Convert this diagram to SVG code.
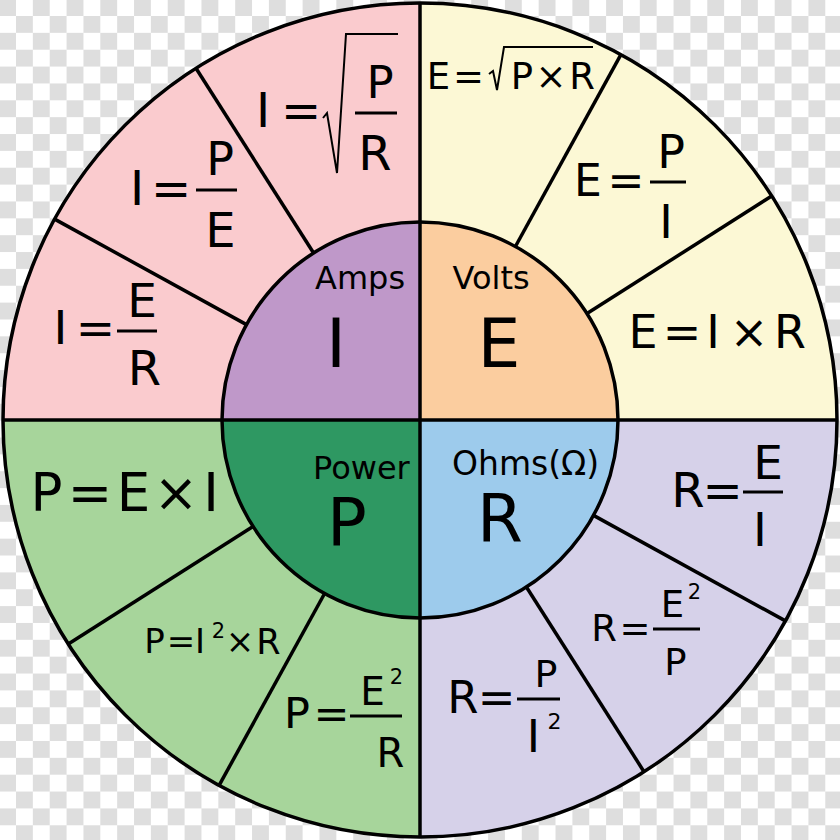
<svg xmlns="http://www.w3.org/2000/svg" width="840" height="840" viewBox="0 0 840 840">
<defs>
<pattern id="chk" x="-0.86" y="-0.86" width="33.72" height="33.72" patternUnits="userSpaceOnUse">
<rect width="33.72" height="33.72" fill="#ffffff"/>
<rect width="16.86" height="16.86" fill="#dedede"/>
<rect x="16.86" y="16.86" width="16.86" height="16.86" fill="#dedede"/>
</pattern>
<style>
text{font-family:"DejaVu Sans","Liberation Sans",sans-serif;fill:#000}
.m{text-anchor:middle}
.pink{fill:#facbce}
.yel{fill:#fcf8d5}
.grn{fill:#a7d59b}
.lav{fill:#d6d1e9}
.fl{stroke:#000;stroke-width:2.8;fill:none}
.rad{stroke:#000;stroke-width:2;fill:none;stroke-linejoin:miter}
.ln{stroke:#000;stroke-width:3.5;fill:none}
</style>
</defs>
<rect width="840" height="840" fill="url(#chk)"/>

<g id="sector-E-IxR">
<path class="yel" d="M420,420 L837,420 A417,417 0 0 0 771.7,195.9 Z"/>
<text class="m" x="643" y="348" font-size="46">E</text>
<text class="m" x="682" y="348" font-size="46">=</text>
<text class="m" x="713" y="348" font-size="46">I</text>
<text class="m" x="749" y="348" font-size="46">×</text>
<text class="m" x="790" y="348" font-size="46">R</text>
</g>
<g id="sector-E-P-over-I">
<path class="yel" d="M420,420 L771.7,195.9 A417,417 0 0 0 620.9,54.6 Z"/>
<text class="m" x="588" y="196" font-size="44">E</text>
<text class="m" x="626" y="196" font-size="44">=</text>
<line class="fl" x1="650" y1="182" x2="686" y2="182"/>
<text class="m" x="671" y="168" font-size="46">P</text>
<text class="m" x="666" y="238" font-size="46">I</text>
</g>
<g id="sector-E-sqrtPR">
<path class="yel" d="M420,420 L620.9,54.6 A417,417 0 0 0 420,3 Z"/>
<text class="m" x="438.5" y="89" font-size="37">E</text>
<text class="m" x="468.5" y="89" font-size="37">=</text>
<polyline class="rad" points="489,74 493,71 497,90 504,47 593,47"/>
<text class="m" x="522" y="89" font-size="37">P</text>
<text class="m" x="551" y="89" font-size="37">×</text>
<text class="m" x="582" y="89" font-size="37">R</text>
</g>

<g id="sector-I-sqrtPR">
<path class="pink" d="M420,420 L420,3 A417,417 0 0 0 196,68.3 Z"/>
<text class="m" x="263" y="127" font-size="48">I</text>
<text class="m" x="301" y="127" font-size="48">=</text>
<polyline class="rad" points="323,118 327,113 337,173 346,34 398,34"/>
<text class="m" x="380" y="98" font-size="45">P</text>
<line class="fl" x1="355" y1="113" x2="397" y2="113"/>
<text class="m" x="375" y="170" font-size="48">R</text>
</g>
<g id="sector-I-P-over-E">
<path class="pink" d="M420,420 L196,68.3 A417,417 0 0 0 54.6,219.1 Z"/>
<text class="m" x="137" y="205" font-size="48">I</text>
<text class="m" x="171" y="205" font-size="48">=</text>
<line class="fl" x1="196" y1="190" x2="237" y2="190"/>
<text class="m" x="220" y="175" font-size="46">P</text>
<text class="m" x="220.5" y="247" font-size="48">E</text>
</g>
<g id="sector-I-E-over-R">
<path class="pink" d="M420,420 L54.6,219.1 A417,417 0 0 0 3,420 Z"/>
<text class="m" x="60.5" y="344" font-size="47">I</text>
<text class="m" x="95.5" y="344" font-size="47">=</text>
<line class="fl" x1="117" y1="331" x2="157" y2="331"/>
<text class="m" x="142" y="317" font-size="47">E</text>
<text class="m" x="144.5" y="385" font-size="48">R</text>
</g>

<g id="sector-P-ExI">
<path class="grn" d="M420,420 L3,420 A417,417 0 0 0 68.3,644.1 Z"/>
<text class="m" x="46.5" y="511" font-size="53">P</text>
<text class="m" x="90" y="511" font-size="53">=</text>
<text class="m" x="133.5" y="511" font-size="53">E</text>
<text class="m" x="176" y="511" font-size="53">×</text>
<text class="m" x="211" y="511" font-size="53">I</text>
</g>
<g id="sector-P-I2xR">
<path class="grn" d="M420,420 L68.3,644.1 A417,417 0 0 0 219.1,785.4 Z"/>
<text class="m" x="154.5" y="653" font-size="34">P</text>
<text class="m" x="181" y="653" font-size="34">=</text>
<text class="m" x="200" y="653" font-size="34">I</text>
<text class="m" x="218.5" y="638" font-size="21">2</text>
<text class="m" x="240" y="653" font-size="34">×</text>
<text class="m" x="268.5" y="654" font-size="35">R</text>
</g>
<g id="sector-P-E2-over-R">
<path class="grn" d="M420,420 L219.1,785.4 A417,417 0 0 0 420,837 Z"/>
<text class="m" x="297" y="728" font-size="43">P</text>
<text class="m" x="331.5" y="728" font-size="43">=</text>
<line class="fl" x1="350" y1="716" x2="402" y2="716"/>
<text class="m" x="372.5" y="705" font-size="39">E</text>
<text class="m" x="396.5" y="684" font-size="21">2</text>
<text class="m" x="390.5" y="767" font-size="40">R</text>
</g>

<g id="sector-R-P-over-I2">
<path class="lav" d="M420,420 L420,837 A417,417 0 0 0 644,771.7 Z"/>
<text class="m" x="463" y="713" font-size="45">R</text>
<text class="m" x="496.5" y="713" font-size="45">=</text>
<line class="fl" x1="517" y1="699" x2="560" y2="699"/>
<text class="m" x="546" y="687" font-size="38">P</text>
<text class="m" x="533.5" y="752" font-size="45">I</text>
<text class="m" x="554.5" y="729" font-size="22">2</text>
</g>
<g id="sector-R-E2-over-P">
<path class="lav" d="M420,420 L644,771.7 A417,417 0 0 0 785.4,620.9 Z"/>
<text class="m" x="604" y="641" font-size="37">R</text>
<text class="m" x="635" y="641" font-size="37">=</text>
<line class="fl" x1="653" y1="629" x2="700" y2="629"/>
<text class="m" x="672.5" y="617" font-size="37">E</text>
<text class="m" x="694.5" y="599" font-size="21">2</text>
<text class="m" x="675.5" y="675" font-size="37">P</text>
</g>
<g id="sector-R-E-over-I">
<path class="lav" d="M420,420 L785.4,620.9 A417,417 0 0 0 837,420 Z"/>
<text class="m" x="688" y="507" font-size="48">R</text>
<text class="m" x="722.5" y="507" font-size="48">=</text>
<line class="fl" x1="743" y1="492" x2="783" y2="492"/>
<text class="m" x="768" y="479" font-size="47">E</text>
<text class="m" x="760" y="546" font-size="47">I</text>
</g>

<g id="core-amps">
<path fill="#bf98c9" d="M420,420 L420,222 A198,198 0 0 0 222,420 Z"/>
<text x="315" y="289" font-size="32">Amps</text>
<text class="m" x="336" y="367" font-size="68">I</text>
</g>
<g id="core-volts">
<path fill="#fbcd9f" d="M420,420 L618,420 A198,198 0 0 0 420,222 Z"/>
<text x="452.5" y="289" font-size="32">Volts</text>
<text class="m" x="499" y="367" font-size="68">E</text>
</g>
<g id="core-power">
<path fill="#2e9862" d="M420,420 L222,420 A198,198 0 0 0 420,618 Z"/>
<text x="313" y="479" font-size="32">Power</text>
<text class="m" x="347" y="545" font-size="66">P</text>
</g>
<g id="core-ohms">
<path fill="#9dcbec" d="M420,420 L420,618 A198,198 0 0 0 618,420 Z"/>
<text x="452" y="475" font-size="33">Ohms(Ω)</text>
<text class="m" x="500" y="541" font-size="66">R</text>
</g>

<g id="dividers">
<line class="ln" x1="587.0" y1="313.6" x2="771.7" y2="195.9"/>
<line class="ln" x1="515.4" y1="246.5" x2="620.9" y2="54.6"/>
<line class="ln" x1="313.6" y1="253.0" x2="196.0" y2="68.3"/>
<line class="ln" x1="246.5" y1="324.6" x2="54.6" y2="219.1"/>
<line class="ln" x1="253.0" y1="526.4" x2="68.3" y2="644.1"/>
<line class="ln" x1="324.6" y1="593.5" x2="219.1" y2="785.4"/>
<line class="ln" x1="526.4" y1="587.0" x2="644.0" y2="771.7"/>
<line class="ln" x1="593.5" y1="515.4" x2="785.4" y2="620.9"/>
<line class="ln" x1="3" y1="420" x2="837" y2="420"/>
<line class="ln" x1="420" y1="3" x2="420" y2="837"/>
<circle class="ln" cx="420" cy="420" r="198"/>
<circle class="ln" cx="420" cy="420" r="417" stroke-width="4"/>
</g>
</svg>
